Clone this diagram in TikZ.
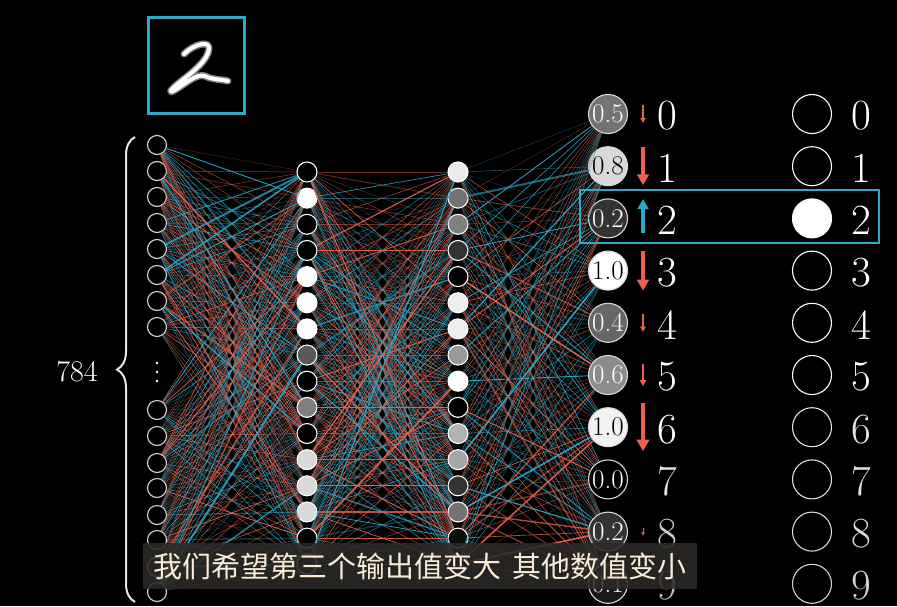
\documentclass[tikz,border=0pt]{standalone}
\usepackage{fontspec}
\newfontfamily\cjk{Noto Sans CJK SC}
\usepackage{tikz}
\usetikzlibrary{arrows.meta, decorations.pathreplacing, positioning, calc}
\definecolor{wred}{RGB}{236,98,78}
\definecolor{wblue}{RGB}{41,170,204}
\definecolor{boxblue}{RGB}{45,170,200}
\definecolor{subcream}{RGB}{250,236,212}
\definecolor{subbg}{RGB}{44,42,39}

\tikzset{
  neuron/.style={circle, draw=white, line width=1.1pt, minimum size=20pt, inner sep=0pt},
  innode/.style={neuron, draw=white!85!black, fill=black, minimum size=19pt},
  outnode/.style={neuron, draw=white!85!black, minimum size=39pt, font=\fontsize{27}{27}\selectfont},
  digit/.style={font=\fontsize{43}{43}\selectfont, inner sep=0pt},
  warrow/.style={-{Triangle[length=0pt 3.2, width=0pt 3.4]}},
}

\begin{document}
\begin{tikzpicture}[x=1pt,y=-1pt]
  \fill[black] (0,0) rectangle (897,606);
  \useasboundingbox (0,0) rectangle (897,606);

  % input picture
  \node[draw=boxblue, line width=3pt, minimum size=96pt, inner sep=0pt] (img) at (196.5,65.5) {};
  \draw[white!50!black, line width=7pt, line cap=round, line join=round]
    (184,54) .. controls (194,44) and (210,40) .. (209,49)
    .. controls (208,60) and (193,72) .. (180,82)
    .. controls (169,91) and (168,94) .. (175,90)
    .. controls (185,84) and (197,73) .. (205,76)
    .. controls (213,80) and (220,79) .. (228,81);
  \draw[white, line width=4pt, line cap=round, line join=round]
    (184,54) .. controls (194,44) and (210,40) .. (209,49)
    .. controls (208,60) and (193,72) .. (180,82)
    .. controls (169,91) and (168,94) .. (175,90)
    .. controls (185,84) and (197,73) .. (205,76)
    .. controls (213,80) and (220,79) .. (228,81);

  % layers
  \foreach \y [count=\n] in {145,171,197,223,249,275,301,327,410,436,463,488,515,540,567,592}
    \node[innode] (i\n) at (157,\y) {};
  \foreach \y [count=\n] in {363,372,381}
    \fill[white] (157,\y) circle (1.4pt);
  \foreach \f [count=\n] in {0,100,0,0,100,100,100,35,0,50,0,85,85,85,0,0}
    \node[neuron, fill=white!\f!black] (a\n) at (307,{172+26.15*(\n-1)}) {};
  \foreach \f [count=\n] in {92,45,50,20,0,93,93,60,100,0,70,65,20,45,5,0}
    \node[neuron, fill=white!\f!black] (b\n) at (458,{172+26.15*(\n-1)}) {};
  \foreach \f/\v/\tc/\dc [count=\n from 0] in {45/0.5/white/100, 85/0.8/black/100, 20/0.2/white/100,
      100/1.0/black/100, 40/0.4/white/100, 55/0.6/white/100, 95/1.0/black/100,
      0/0.0/white/88, 20/0.2/white/80, 10/0.1/white/75}{
    \node[outnode, fill=white!\f!black, text=\tc] (o\n) at (608,{114+52.2*\n}) {\v};
    \node[digit, text=white!\dc!black] (d\n) at ($(o\n)+(59,2)$) {\n};
  }
  \foreach \n/\dc in {0/100,1/100,2/100,3/100,4/100,5/100,6/90,7/88,8/85,9/82}{
    \node[neuron, draw=white!\dc!black, minimum size=39pt] (t\n) at (812,{114+52.2*\n}) {};
    \node[digit, text=white!\dc!black] (e\n) at ($(t\n)+(49,2)$) {\n};
  }
  \fill[white] (t2) circle (19.5pt);

  % weights
  \pgfmathsetseed{2024}
  \foreach \i in {1,...,16}{
    \foreach \j in {1,...,16}{
      \pgfmathsetmacro\op{0.3+0.7*rnd}
      \pgfmathsetmacro\lw{0.35+2.2*rnd*rnd*rnd}
      \pgfmathtruncatemacro\c{rnd<0.5}
      \ifnum\c=1 \def\col{wred}\else\def\col{wblue}\fi
      \draw[\col, line width=\lw pt, draw opacity=\op] (i\i) -- (a\j);
      \pgfmathsetmacro\op{0.3+0.7*rnd}
      \pgfmathsetmacro\lw{0.35+2.2*rnd*rnd*rnd}
      \pgfmathtruncatemacro\c{rnd<0.5}
      \ifnum\c=1 \def\col{wred}\else\def\col{wblue}\fi
      \draw[\col, line width=\lw pt, draw opacity=\op] (a\i) -- (b\j);
    }
    \foreach \j in {0,...,9}{
      \pgfmathsetmacro\op{0.3+0.7*rnd}
      \pgfmathsetmacro\lw{0.35+2.2*rnd*rnd*rnd}
      \pgfmathtruncatemacro\c{rnd<0.5}
      \ifnum\c=1 \def\col{wred}\else\def\col{wblue}\fi
      \draw[\col, line width=\lw pt, draw opacity=\op] (b\i) -- (o\j);
    }
  }

  % nudges
  \foreach \k/\len/\lw in {0/18/1.6, 1/38/3.4, 3/40/3.4, 4/18/1.6, 5/22/1.8, 6/48/3.6, 8/8/1}{
    \coordinate (au\k) at (643,{114+52.2*\k-\len/2});
    \coordinate (ad\k) at (643,{114+52.2*\k+\len/2});
    \draw[warrow, wred, line width=\lw pt] (au\k) -- (ad\k);
  }
  \coordinate (ad2) at (643,233);
  \coordinate (au2) at (643,199);
  \draw[warrow, wblue, line width=3.2pt] (ad2) -- (au2);
  \draw[boxblue, line width=2.6pt] (580,190) rectangle (879,243);

  % input count
  \draw[white!90!black, line width=2pt, decorate, decoration={brace, amplitude=18pt}]
    (135,602) -- (135,137);
  \node[text=white, font=\fontsize{30}{30}\selectfont] (cnt) at (77,372) {784};

  % subtitle
  \node[fill=subbg, fill opacity=0.88, text opacity=1, text=subcream, minimum width=554pt,
    minimum height=46pt, inner sep=0pt, font=\cjk\fontsize{29}{29}\selectfont] (sub) at (420,566)
    {我们希望第三个输出值变大\hspace{0.15em} 其他数值变小};
\end{tikzpicture}
\end{document}
